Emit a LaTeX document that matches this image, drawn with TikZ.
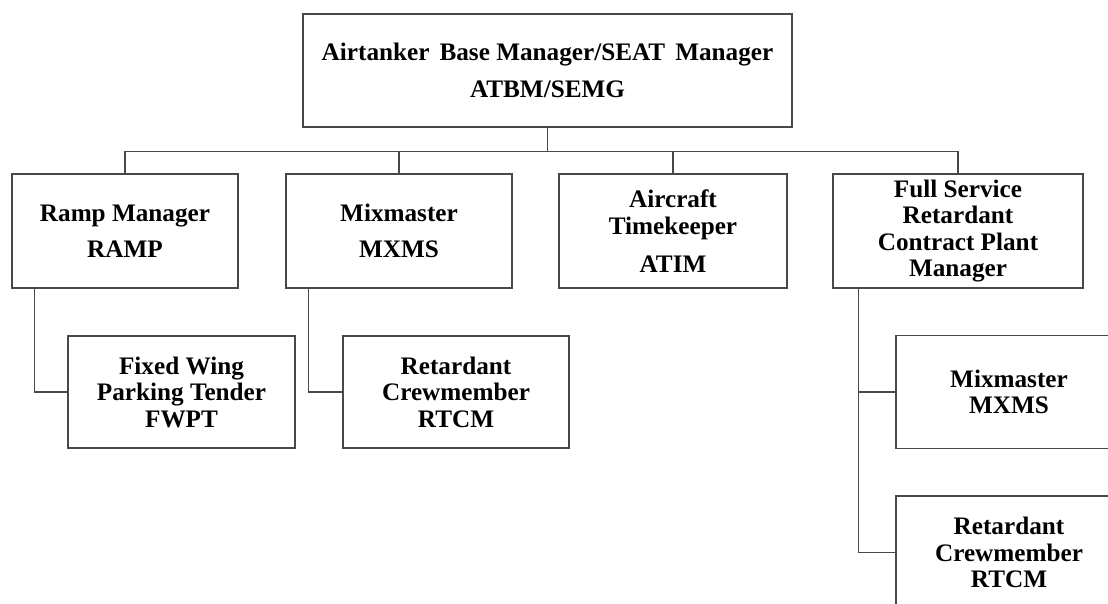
\documentclass[tikz,border=0pt]{standalone}
\usepackage{fontspec}
\setmainfont{Liberation Serif}
\usetikzlibrary{calc}
\definecolor{edge}{RGB}{72,72,72}
\tikzset{
  orgbox/.style={draw=edge, line width=1.3pt, fill=white, align=center, inner sep=0pt,
    font=\bfseries\fontsize{25.2}{26.5}\selectfont},
  link/.style={draw=edge, line width=1.3pt}
}
\begin{document}
\begin{tikzpicture}[x=1pt,y=-1pt]
\useasboundingbox (0,0) rectangle (1108,604);
\clip (0,0) rectangle (1108,604);
\fill[white] (0,0) rectangle (1108,604);
% top
\node[orgbox, minimum width=489pt, minimum height=113pt] (top) at (547.5,70.5)
  {Airtanker\hspace{0.4em}Base Manager/SEAT\hspace{0.4em}Manager\\[10.5pt]ATBM/SEMG};
% second level
\node[orgbox, minimum width=226pt, minimum height=114pt] (ramp) at (125,231)
  {Ramp Manager\\[9.5pt]RAMP};
\node[orgbox, minimum width=226pt, minimum height=114pt] (mix) at (399,231)
  {Mixmaster\\[9.5pt]MXMS};
\node[orgbox, minimum width=228pt, minimum height=114pt] (atim) at (673,231)
  {Aircraft\\Timekeeper\\[11.5pt]ATIM};
\node[orgbox, minimum width=250pt, minimum height=114pt] (fs) at (958,231)
  {Full Service\\Retardant\\Contract Plant\\Manager};
% third level
\node[orgbox, minimum width=227pt, minimum height=112pt] (fwpt) at (181.5,392)
  {Fixed Wing\\Parking Tender\\FWPT};
\node[orgbox, minimum width=226pt, minimum height=112pt] (rtcma) at (456,392)
  {Retardant\\Crewmember\\RTCM};
\node[orgbox, minimum width=226pt, minimum height=113pt] (mxmsb) at (1009,392)
  {Mixmaster\\MXMS};
\node[orgbox, minimum width=226pt, minimum height=113pt] (rtcmb) at (1009,552.5)
  {Retardant\\Crewmember\\RTCM};
% connectors
\coordinate (bus) at ($(top.south)+(0,24)$);
\draw[link] (top.south) -- (bus);
\draw[link] (ramp.north) |- (bus) -| (fs.north);
\draw[link] (mix.north) -- (mix.north |- bus);
\draw[link] (atim.north) -- (atim.north |- bus);
\draw[link] ($(ramp.south west)+(23,0)$) |- (fwpt.west);
\draw[link] ($(mix.south west)+(23,0)$) |- (rtcma.west);
\draw[link] ($(fs.south west)+(26,0)$) |- (mxmsb.west);
\draw[link] ($(fs.south west)+(26,0)$) |- (rtcmb.west);
\end{tikzpicture}
\end{document}
